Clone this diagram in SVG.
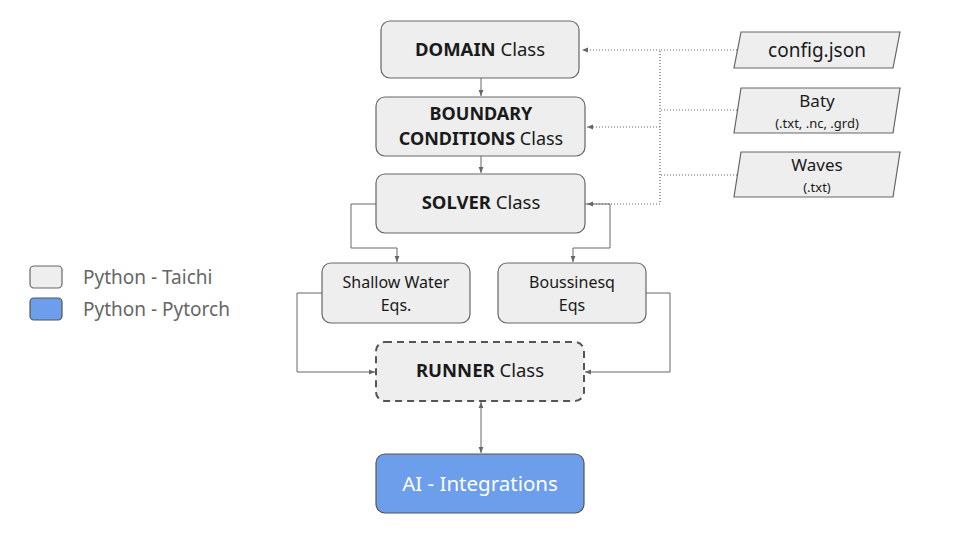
<svg xmlns="http://www.w3.org/2000/svg" width="960" height="540" viewBox="0 0 960 540">
<defs>
<style>
.box{fill:#eeeeee;stroke:#666666;stroke-width:1.2}
.ai{fill:#6d9eeb;stroke:#555555;stroke-width:1.2}
.run{fill:#eeeeee;stroke:#555555;stroke-width:2;stroke-dasharray:7,5}
text{font-family:"Noto Sans","Liberation Sans",sans-serif;fill:#1a1a1a;text-anchor:middle}
.t{font-size:18.5px}
.t2{font-size:18px}
.s{font-size:16px}
.xs{font-size:13px}
.b{font-weight:bold}
.leg{font-size:19px;fill:#666666;text-anchor:start}
.ln{fill:none;stroke:#666666;stroke-width:1}
.dot{fill:none;stroke:#666666;stroke-width:1.2;stroke-dasharray:1,2}
</style>
<marker id="ah" viewBox="0 0 10 10" refX="10" refY="5" markerWidth="6" markerHeight="6" orient="auto-start-reverse" markerUnits="userSpaceOnUse">
<path d="M0,1 L10,5 L0,9 Z" fill="#666666"/>
</marker>
</defs>
<rect width="960" height="540" fill="#ffffff"/>
<g id="connectors">
<line class="ln" x1="481" y1="78" x2="481" y2="96" marker-end="url(#ah)"/>
<line class="ln" x1="481" y1="156" x2="481" y2="173" marker-end="url(#ah)"/>
<polyline class="ln" points="376,204 351,204 351,248 397,248 397,262" marker-end="url(#ah)"/>
<polyline class="ln" points="585,204 610,204 610,248 573,248 573,262" marker-end="url(#ah)"/>
<polyline class="ln" points="322,293 297,293 297,372 375,372" marker-end="url(#ah)"/>
<polyline class="ln" points="646,293 670,293 670,372 585,372" marker-end="url(#ah)"/>
<line class="ln" x1="481" y1="402" x2="481" y2="453" marker-start="url(#ah)" marker-end="url(#ah)"/>
<polyline class="dot" points="737,50 660,50 660,204"/>
<line class="dot" x1="660" y1="50" x2="582" y2="50" marker-end="url(#ah)"/>
<line class="dot" x1="737" y1="110" x2="660" y2="110"/>
<line class="dot" x1="737" y1="175" x2="660" y2="175"/>
<line class="dot" x1="660" y1="127" x2="587" y2="127" marker-end="url(#ah)"/>
<line class="dot" x1="660" y1="204" x2="587" y2="204" marker-end="url(#ah)"/>
</g>
<g id="domain">
<rect class="box" x="381" y="21" width="198" height="57" rx="9"/>
<text class="t" x="480" y="56"><tspan class="b">DOMAIN</tspan> Class</text>
</g>
<g id="boundary">
<rect class="box" x="376" y="97" width="209" height="59" rx="9"/>
<text class="t2" x="481" y="120"><tspan class="b">BOUNDARY</tspan></text>
<text class="t2" x="481" y="145"><tspan class="b">CONDITIONS</tspan> Class</text>
</g>
<g id="solver">
<rect class="box" x="376" y="174" width="209" height="59" rx="9"/>
<text class="t" x="481" y="209"><tspan class="b">SOLVER</tspan> Class</text>
</g>
<g id="shallow">
<rect class="box" x="322" y="263" width="148" height="60" rx="9"/>
<text class="s" x="396" y="288">Shallow Water</text>
<text class="s" x="396" y="311">Eqs.</text>
</g>
<g id="boussinesq">
<rect class="box" x="498" y="263" width="148" height="60" rx="9"/>
<text class="s" x="572" y="288">Boussinesq</text>
<text class="s" x="572" y="311">Eqs</text>
</g>
<g id="runner">
<rect class="run" x="376" y="342" width="208" height="59" rx="9"/>
<text class="t" x="480" y="377"><tspan class="b">RUNNER</tspan> Class</text>
</g>
<g id="ai">
<rect class="ai" x="376" y="454" width="208" height="59" rx="9"/>
<text x="480" y="491" style="font-size:20.5px;fill:#ffffff">AI - Integrations</text>
</g>
<g id="config">
<polygon class="box" points="741,32 900,32 893,68 734,68"/>
<text class="t" x="817" y="57" style="font-size:19px">config.json</text>
</g>
<g id="baty">
<polygon class="box" points="741,88 900,88 893,133 734,133"/>
<text class="s" x="817" y="107" style="font-size:17px">Baty</text>
<text class="xs" x="817" y="128">(.txt, .nc, .grd)</text>
</g>
<g id="waves">
<polygon class="box" points="741,152 900,152 893,197 734,197"/>
<text class="s" x="817" y="171" style="font-size:17px">Waves</text>
<text class="xs" x="817" y="192">(.txt)</text>
</g>
<g id="legend">
<rect class="box" x="30" y="266" width="32" height="22" rx="4"/>
<rect class="ai" x="30" y="298" width="32" height="22" rx="4"/>
<text class="leg" x="83" y="284">Python - Taichi</text>
<text class="leg" x="83" y="316">Python - Pytorch</text>
</g>
</svg>
